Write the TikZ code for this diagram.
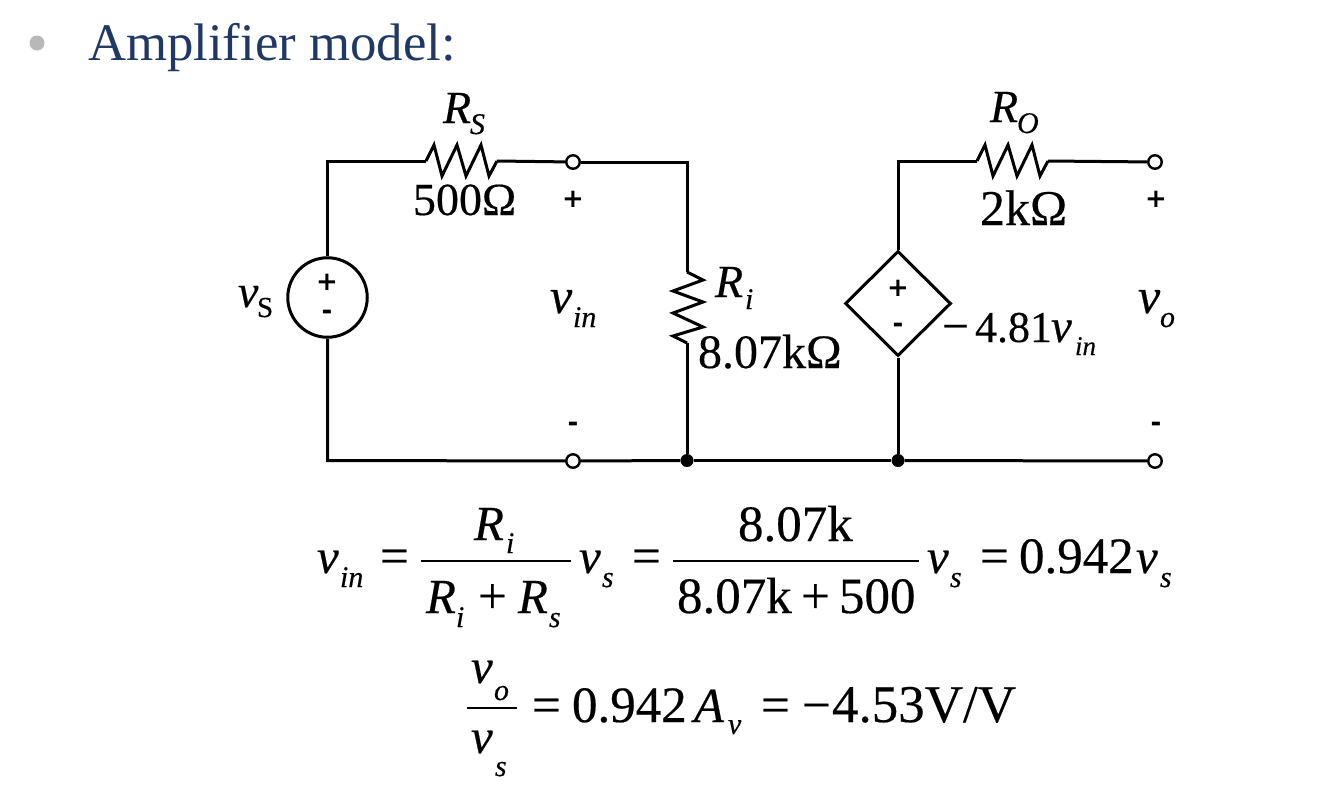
\documentclass[tikz,border=0pt]{standalone}
\usepackage{fontspec}
\setmainfont{Liberation Serif}[FakeBold=0.35,ItalicFeatures={FakeBold=0.35}]
\newfontfamily\titlefont{Liberation Serif}
\newfontfamily\signfont{DejaVu Sans}[BoldFeatures={}]
\usetikzlibrary{shapes.geometric}
\newcommand\fs[1]{\fontsize{#1}{#1}\selectfont}
\definecolor{titlenavy}{HTML}{1F3864}
\tikzset{
  wire/.style={line width=3pt,line join=miter,line cap=butt},
  res/.style={line width=3pt,line join=miter},
  terminal/.style={circle,draw,fill=white,line width=2.4pt,minimum size=13.5pt,inner sep=0pt},
  junction/.style={circle,fill=black,minimum size=13pt,inner sep=0pt},
  txt/.style={inner sep=0pt,outer sep=0pt,anchor=base west},
  big/.style={txt,font=\fs{48}},
  main/.style={txt,font=\fs{51}},
  maini/.style={txt,font=\fs{49}\itshape},
  lab/.style={txt,font=\fs{46}\itshape},
  subs/.style={txt,font=\fs{30}\itshape},
  sign/.style={inner sep=0pt,outer sep=0pt,anchor=center,font=\signfont\bfseries\fs{26}},
  bar/.style={line width=2pt}
}
\begin{document}
\begin{tikzpicture}[x=1pt,y=-1pt]
\useasboundingbox (0,0) rectangle (1322,798);
% title
\node[circle,fill=black!28,minimum size=15pt,inner sep=0pt] (bullet) at (37,43) {};
\node[txt,font=\titlefont\fs{52.8},text=titlenavy] (title) at (88,60) {Amplifier model:};
% sources
\node[circle,draw,line width=3pt,minimum size=79.5pt,inner sep=0pt] (vsrc) at (327.5,297.5) {};
\node[diamond,draw,line width=3pt,minimum width=106pt,minimum height=105pt,inner sep=0pt,aspect=1] (dep) at (898,303.5) {};
% terminals and junctions
\node[terminal] (tA) at (573,162) {};
\node[terminal] (tB) at (573,461) {};
\node[terminal] (tC) at (1155,162) {};
\node[terminal] (tD) at (1155,461) {};
\node[junction] (jA) at (687,460.5) {};
\node[junction] (jB) at (898,460.5) {};
% resistor ends
\coordinate (rsL) at (426,161);
\coordinate (rsR) at (497,161);
\coordinate (roL) at (977,161);
\coordinate (roR) at (1048,161);
\coordinate (riT) at (687,272);
\coordinate (riB) at (687,343);
\coordinate (tl) at (327.5,161);
\coordinate (bl) at (327.5,460.5);
\coordinate (tm) at (687,162);
\coordinate (tr) at (898,161);
% wires
\draw[wire] (vsrc.north) -- (tl) -- (rsL);
\draw[wire] (vsrc.south) -- (bl) -- (tB);
\draw[wire] (rsR) -- (tA);
\draw[wire] (tA) -- (tm) -- (riT);
\draw[wire] (riB) -- (jA);
\draw[wire] (tB) -- (jA);
\draw[wire] (jA) -- (jB);
\draw[wire] (jB) -- (tD);
\draw[wire] (dep.south) -- (jB);
\draw[wire] (dep.north) -- (tr) -- (roL);
\draw[wire] (roR) -- (tC);
% resistors
\draw[res] (rsL) -- ++(8,-16) -- ++(8,31) -- ++(15,-31) -- ++(9,31) -- ++(15,-31) -- ++(8,31) -- (rsR);
\draw[res] (roL) -- ++(8,-16) -- ++(8,31) -- ++(15,-31) -- ++(9,31) -- ++(15,-31) -- ++(8,31) -- (roR);
\draw[res] (riT) -- ++(16,8) -- ++(-30,11) -- ++(30,11) -- ++(-30,11) -- ++(30,14) -- ++(-30,9) -- (riB);
% circuit signs
\node[sign] (s1) at (327,282) {+};
\node[sign] (s2) at (327,315) {-};
\node[sign] (s3) at (898,288) {+};
\node[sign] (s4) at (898,328) {-};
\node[sign] (s5) at (573,199) {+};
\node[sign] (s6) at (573,427) {-};
\node[sign] (s7) at (1156,199) {+};
\node[sign] (s8) at (1156,427) {-};
% circuit labels
\node[lab] (l1) at (238,307) {v};
\node[txt,font=\fs{29}] (l1s) at (257,317) {S};
\node[lab] (l2) at (443,123) {R};
\node[subs] (l2s) at (470,134) {S};
\node[big,font=\fs{46}] (l3) at (413,215) {500Ω};
\node[lab,font=\fs{50}\itshape] (l4) at (550,313) {v};
\node[subs] (l4s) at (573,327) {in};
\node[lab] (l5) at (715,297) {R};
\node[subs] (l5s) at (745,309) {i};
\node[big] (l6) at (698,368) {8.07kΩ};
\node[lab] (l7) at (990,122) {R};
\node[subs] (l7s) at (1017,133) {O};
\node[big,font=\fs{50}] (l8) at (980,225) {2kΩ};
\node[big] (l9) at (942,342) {−};
\node[big,font=\fs{44}] (l9b) at (975,342) {4.81};
\node[lab,font=\fs{47}\itshape] (l9c) at (1051,342) {v};
\node[subs,font=\fs{27}\itshape] (l9d) at (1075,355) {in};
\node[lab,font=\fs{50}\itshape] (l10) at (1138,313) {v};
\node[subs] (l10s) at (1160,327) {o};
% first equation
\node[maini] (e1) at (317,573) {v};
\node[subs] (e1s) at (340,587) {in};
\node[main] (e2) at (380,573) {=};
\node[maini] (e3) at (474,540) {R};
\node[subs] (e3s) at (506,553) {i};
\node[maini] (e4) at (426,613) {R};
\node[subs] (e4s) at (456,627) {i};
\node[main] (e5) at (478,613) {+};
\node[maini] (e6) at (518,613) {R};
\node[subs] (e6s) at (549,627) {s};
\node[maini] (e7) at (579,573) {v};
\node[subs] (e7s) at (602,587) {s};
\node[main] (e8) at (632,573) {=};
\node[main] (e9) at (738,541) {8.07k};
\node[main] (e10) at (677,613) {8.07k};
\node[main] (e11) at (801,613) {+};
\node[main] (e12) at (839,613) {500};
\node[maini] (e13) at (927,573) {v};
\node[subs] (e13s) at (950,587) {s};
\node[main] (e14) at (980,573) {=};
\node[main] (e15) at (1019,573) {0.942};
\node[maini] (e16) at (1136,573) {v};
\node[subs] (e16s) at (1160,587) {s};
\coordinate (b1a) at (421,561);
\coordinate (b1b) at (571,561);
\coordinate (b2a) at (673,561);
\coordinate (b2b) at (919,561);
\draw[bar] (b1a) -- (b1b);
\draw[bar] (b2a) -- (b2b);
% second equation
\node[maini] (f1) at (471,683) {v};
\node[subs] (f1s) at (494,700) {o};
\node[maini] (f2) at (471,753) {v};
\node[subs] (f2s) at (495,776) {s};
\coordinate (b3a) at (467,708);
\coordinate (b3b) at (517,708);
\draw[bar] (b3a) -- (b3b);
\node[main] (f3) at (532,722) {=};
\node[main] (f4) at (572,722) {0.942};
\node[maini] (f5) at (694,722) {A};
\node[subs] (f5s) at (728,734) {v};
\node[main] (f6) at (761,722) {=};
\node[main] (f7) at (802,722) {−};
\node[main,font=\fs{53}] (f8) at (832,722) {4.53V/V};
\end{tikzpicture}
\end{document}
